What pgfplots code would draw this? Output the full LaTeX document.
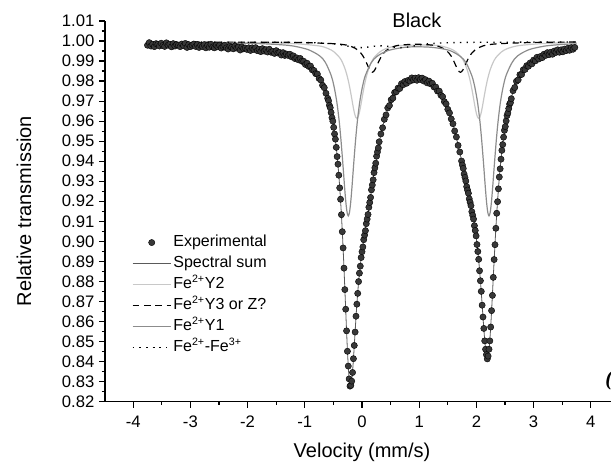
\documentclass[border=0pt]{standalone}
\usepackage{pgfplots}
\pgfplotsset{compat=1.18}
\usepackage{fontspec}
\setmainfont{Liberation Sans}
\newfontfamily\serifbi{Liberation Serif}

\definecolor{sumc}{HTML}{5A5A5A}
\definecolor{yone}{HTML}{8C8C8C}
\definecolor{ytwo}{HTML}{C8C8C8}

\pgfplotstableread{
x y
-3.75 0.9979
-3.72 0.9992
-3.69 0.9975
-3.66 0.9984
-3.63 0.9972
-3.60 0.9987
-3.57 0.9983
-3.54 0.9975
-3.51 0.9989
-3.48 0.9978
-3.45 0.9973
-3.42 0.9991
-3.39 0.9979
-3.36 0.9984
-3.33 0.9971
-3.30 0.9987
-3.27 0.9975
-3.24 0.9982
-3.21 0.9979
-3.18 0.9972
-3.15 0.9985
-3.12 0.9977
-3.09 0.9988
-3.06 0.9968
-3.03 0.9982
-3.00 0.9972
-2.97 0.9979
-2.94 0.9985
-2.91 0.9973
-2.88 0.9982
-2.85 0.9968
-2.82 0.9979
-2.79 0.9973
-2.76 0.9982
-2.73 0.9966
-2.70 0.9978
-2.67 0.9969
-2.64 0.9984
-2.61 0.9970
-2.58 0.9966
-2.55 0.9979
-2.52 0.9971
-2.49 0.9979
-2.46 0.9965
-2.43 0.9973
-2.40 0.9979
-2.37 0.9966
-2.34 0.9960
-2.31 0.9974
-2.28 0.9968
-2.25 0.9961
-2.22 0.9975
-2.19 0.9965
-2.16 0.9970
-2.13 0.9955
-2.10 0.9971
-2.07 0.9961
-2.04 0.9965
-2.01 0.9958
-1.98 0.9966
-1.95 0.9953
-1.92 0.9966
-1.89 0.9958
-1.86 0.9967
-1.83 0.9952
-1.80 0.9959
-1.77 0.9947
-1.74 0.9962
-1.71 0.9950
-1.68 0.9957
-1.65 0.9945
-1.62 0.9959
-1.59 0.9944
-1.56 0.9948
-1.53 0.9938
-1.50 0.9952
-1.47 0.9940
-1.44 0.9943
-1.41 0.9930
-1.38 0.9942
-1.35 0.9928
-1.32 0.9935
-1.29 0.9928
-1.26 0.9934
-1.23 0.9921
-1.20 0.9926
-1.17 0.9912
-1.14 0.9916
-1.11 0.9906
-1.08 0.9913
-1.05 0.9899
-1.02 0.9899
-0.99 0.9883
-0.96 0.9889
-0.93 0.9873
-0.90 0.9875
-0.87 0.9856
-0.84 0.9853
-0.81 0.9837
-0.78 0.9835
-0.75 0.9813
-0.72 0.9805
-0.69 0.9779
-0.66 0.9767
-0.63 0.9739
-0.600 0.9714
-0.585 0.9702
-0.570 0.9679
-0.555 0.9667
-0.540 0.9643
-0.525 0.9617
-0.510 0.9600
-0.495 0.9569
-0.480 0.9536
-0.465 0.9510
-0.450 0.9469
-0.435 0.9423
-0.420 0.9385
-0.405 0.9330
-0.390 0.9267
-0.375 0.9210
-0.360 0.9133
-0.345 0.9048
-0.330 0.8967
-0.315 0.8866
-0.300 0.8759
-0.285 0.8661
-0.270 0.8553
-0.255 0.8451
-0.240 0.8377
-0.225 0.8313
-0.210 0.8277
-0.195 0.8281
-0.180 0.8302
-0.165 0.8345
-0.150 0.8414
-0.135 0.8480
-0.120 0.8547
-0.105 0.8626
-0.090 0.8686
-0.075 0.8740
-0.060 0.8799
-0.045 0.8841
-0.030 0.8876
-0.015 0.8919
0.000 0.8948
0.015 0.8972
0.030 0.9008
0.045 0.9031
0.060 0.9053
0.075 0.9088
0.090 0.9111
0.105 0.9134
0.120 0.9170
0.135 0.9194
0.150 0.9219
0.165 0.9257
0.180 0.9281
0.195 0.9307
0.210 0.9343
0.225 0.9367
0.240 0.9390
0.255 0.9425
0.270 0.9446
0.285 0.9466
0.300 0.9497
0.33 0.9536
0.36 0.9567
0.39 0.9609
0.42 0.9631
0.45 0.9666
0.48 0.9678
0.51 0.9707
0.54 0.9715
0.57 0.9743
0.60 0.9747
0.63 0.9765
0.66 0.9763
0.69 0.9787
0.72 0.9782
0.75 0.9798
0.78 0.9789
0.81 0.9804
0.84 0.9800
0.87 0.9816
0.90 0.9806
0.93 0.9815
0.96 0.9804
0.99 0.9817
1.02 0.9808
1.05 0.9815
1.08 0.9800
1.11 0.9807
1.14 0.9791
1.17 0.9800
1.20 0.9786
1.23 0.9789
1.26 0.9770
1.29 0.9770
1.32 0.9750
1.35 0.9750
1.38 0.9729
1.41 0.9722
1.44 0.9697
1.47 0.9686
1.50 0.9659
1.53 0.9641
1.56 0.9611
1.59 0.9587
1.62 0.9551
1.65 0.9521
1.68 0.9479
1.71 0.9446
1.74 0.9401
1.755 0.9381
1.770 0.9364
1.785 0.9336
1.800 0.9319
1.815 0.9301
1.830 0.9273
1.845 0.9256
1.860 0.9240
1.875 0.9212
1.890 0.9195
1.905 0.9178
1.920 0.9148
1.935 0.9130
1.950 0.9111
1.965 0.9078
1.980 0.9054
1.995 0.9027
2.010 0.8984
2.025 0.8949
2.040 0.8910
2.055 0.8853
2.070 0.8803
2.085 0.8750
2.100 0.8681
2.115 0.8622
2.130 0.8565
2.145 0.8503
2.160 0.8461
2.175 0.8434
2.190 0.8413
2.205 0.8427
2.220 0.8461
2.235 0.8503
2.250 0.8572
2.265 0.8654
2.280 0.8730
2.295 0.8820
2.310 0.8909
2.325 0.8983
2.340 0.9065
2.355 0.9140
2.370 0.9198
2.385 0.9262
2.400 0.9321
2.415 0.9362
2.430 0.9410
2.445 0.9454
2.460 0.9483
2.475 0.9520
2.490 0.9554
2.505 0.9573
2.520 0.9601
2.535 0.9628
2.550 0.9641
2.565 0.9663
2.580 0.9685
2.595 0.9692
2.610 0.9712
2.64 0.9752
2.67 0.9768
2.70 0.9799
2.73 0.9806
2.76 0.9832
2.79 0.9833
2.82 0.9857
2.85 0.9858
2.88 0.9877
2.91 0.9874
2.94 0.9891
2.97 0.9886
3.00 0.9905
3.03 0.9901
3.06 0.9919
3.09 0.9910
3.12 0.9923
3.15 0.9917
3.18 0.9934
3.21 0.9928
3.24 0.9942
3.27 0.9932
3.30 0.9944
3.33 0.9934
3.36 0.9950
3.39 0.9943
3.42 0.9956
3.45 0.9944
3.48 0.9956
3.51 0.9946
3.54 0.9960
3.57 0.9952
3.60 0.9964
3.63 0.9954
3.66 0.9967
3.69 0.9959
3.72 0.9968
}\expdata

\pgfplotstableread{
x y
-3.75 0.9983
-3.5 0.9981
-3.0 0.9978
-2.5 0.9972
-2.0 0.9963
-1.74 0.9955
-1.5 0.9944
-1.38 0.9937
-1.26 0.9927
-1.20 0.9921
-1.14 0.9913
-1.08 0.9906
-1.02 0.9895
-0.96 0.9884
-0.90 0.9869
-0.84 0.9851
-0.78 0.9830
-0.72 0.9801
-0.66 0.9764
-0.63 0.9741
-0.600 0.9714
-0.585 0.9699
-0.570 0.9682
-0.555 0.9664
-0.540 0.9643
-0.525 0.9621
-0.510 0.9596
-0.495 0.9569
-0.480 0.9540
-0.465 0.9506
-0.450 0.9469
-0.435 0.9427
-0.420 0.9381
-0.405 0.9330
-0.390 0.9271
-0.375 0.9206
-0.360 0.9133
-0.345 0.9052
-0.330 0.8963
-0.315 0.8866
-0.300 0.8763
-0.285 0.8657
-0.270 0.8553
-0.255 0.8455
-0.240 0.8373
-0.225 0.8313
-0.210 0.8281
-0.195 0.8277
-0.180 0.8302
-0.165 0.8349
-0.150 0.8410
-0.135 0.8480
-0.120 0.8551
-0.105 0.8622
-0.090 0.8686
-0.075 0.8744
-0.060 0.8795
-0.045 0.8841
-0.030 0.8880
-0.015 0.8915
0.000 0.8948
0.015 0.8976
0.030 0.9004
0.045 0.9031
0.060 0.9057
0.075 0.9084
0.090 0.9111
0.105 0.9138
0.120 0.9166
0.135 0.9194
0.150 0.9223
0.165 0.9253
0.180 0.9281
0.195 0.9311
0.210 0.9339
0.225 0.9367
0.240 0.9394
0.255 0.9421
0.270 0.9446
0.285 0.9470
0.300 0.9493
0.33 0.9533
0.36 0.9571
0.39 0.9604
0.42 0.9634
0.45 0.9660
0.48 0.9683
0.51 0.9703
0.54 0.9721
0.57 0.9736
0.60 0.9749
0.63 0.9760
0.66 0.9770
0.69 0.9779
0.72 0.9786
0.75 0.9792
0.78 0.9797
0.81 0.9801
0.84 0.9805
0.87 0.9807
0.90 0.9809
0.93 0.9810
0.96 0.9811
0.99 0.9811
1.02 0.9810
1.05 0.9808
1.08 0.9806
1.11 0.9803
1.14 0.9799
1.17 0.9795
1.20 0.9789
1.23 0.9783
1.26 0.9775
1.29 0.9766
1.32 0.9756
1.35 0.9745
1.38 0.9732
1.41 0.9718
1.44 0.9701
1.47 0.9683
1.50 0.9662
1.53 0.9639
1.56 0.9613
1.59 0.9584
1.62 0.9553
1.65 0.9519
1.68 0.9482
1.71 0.9444
1.74 0.9403
1.755 0.9381
1.770 0.9360
1.785 0.9340
1.800 0.9319
1.815 0.9297
1.830 0.9277
1.845 0.9256
1.860 0.9236
1.875 0.9216
1.890 0.9195
1.905 0.9174
1.920 0.9152
1.935 0.9130
1.950 0.9107
1.965 0.9082
1.980 0.9054
1.995 0.9023
2.010 0.8988
2.025 0.8949
2.040 0.8906
2.055 0.8857
2.070 0.8803
2.085 0.8746
2.100 0.8685
2.115 0.8622
2.130 0.8561
2.145 0.8507
2.160 0.8461
2.175 0.8430
2.190 0.8417
2.205 0.8427
2.220 0.8457
2.235 0.8507
2.250 0.8572
2.265 0.8650
2.280 0.8734
2.295 0.8820
2.310 0.8905
2.325 0.8987
2.340 0.9065
2.355 0.9136
2.370 0.9202
2.385 0.9262
2.400 0.9317
2.415 0.9366
2.430 0.9410
2.445 0.9450
2.460 0.9487
2.475 0.9520
2.490 0.9550
2.505 0.9577
2.520 0.9601
2.535 0.9624
2.550 0.9645
2.565 0.9663
2.580 0.9681
2.595 0.9696
2.610 0.9712
2.64 0.9748
2.67 0.9773
2.70 0.9793
2.73 0.9810
2.76 0.9827
2.79 0.9840
2.82 0.9851
2.85 0.9861
2.88 0.9870
2.91 0.9880
2.94 0.9887
2.97 0.9894
3.00 0.9900
3.06 0.9911
3.12 0.9920
3.18 0.9928
3.24 0.9935
3.30 0.9940
3.36 0.9944
3.42 0.9948
3.48 0.9952
3.54 0.9955
3.60 0.9957
3.66 0.9961
3.72 0.9963
}\sumdata

\pgfplotstableread{
x y
-3.75 0.9993
-2.5 0.9990
-1.8 0.9987
-1.4 0.9981
-1.2 0.9975
-0.94 0.9957
-0.74 0.9926
-0.64 0.9893
-0.54 0.9829
-0.49 0.9775
-0.44 0.9695
-0.40 0.9603
-0.37 0.9513
-0.34 0.9407
-0.32 0.9330
-0.30 0.9254
-0.28 0.9188
-0.26 0.9143
-0.24 0.9127
-0.22 0.9143
-0.20 0.9188
-0.18 0.9254
-0.16 0.9330
-0.14 0.9407
-0.11 0.9513
-0.08 0.9603
-0.04 0.9695
0.01 0.9775
0.06 0.9829
0.16 0.9891
0.26 0.9923
0.46 0.9953
0.80 0.9970
1.20 0.9969
1.52 0.9954
1.72 0.9923
1.82 0.9891
1.92 0.9827
1.97 0.9773
2.02 0.9694
2.06 0.9602
2.09 0.9512
2.12 0.9406
2.14 0.9330
2.16 0.9254
2.18 0.9188
2.20 0.9143
2.22 0.9127
2.24 0.9143
2.26 0.9188
2.28 0.9254
2.30 0.9330
2.32 0.9406
2.35 0.9512
2.38 0.9602
2.42 0.9695
2.47 0.9775
2.52 0.9829
2.62 0.9891
2.72 0.9926
2.92 0.9957
3.20 0.9975
3.50 0.9983
3.75 0.9986
}\yonedata

\pgfplotstableread{
x y
-3.75 0.9994
-1.5 0.9990
-0.79 0.9977
-0.59 0.9962
-0.49 0.9946
-0.39 0.9917
-0.34 0.9892
-0.29 0.9856
-0.25 0.9815
-0.22 0.9776
-0.19 0.9730
-0.17 0.9697
-0.15 0.9665
-0.13 0.9638
-0.11 0.9620
-0.09 0.9613
-0.07 0.9620
-0.05 0.9638
-0.03 0.9665
-0.01 0.9697
0.01 0.9730
0.04 0.9776
0.07 0.9815
0.11 0.9856
0.16 0.9892
0.21 0.9917
0.31 0.9945
0.41 0.9961
0.61 0.9976
1.00 0.9980
1.34 0.9977
1.54 0.9962
1.64 0.9946
1.74 0.9917
1.79 0.9892
1.84 0.9856
1.88 0.9815
1.91 0.9776
1.94 0.9730
1.96 0.9697
1.98 0.9665
2.00 0.9638
2.02 0.9620
2.04 0.9613
2.06 0.9620
2.08 0.9638
2.10 0.9665
2.12 0.9697
2.14 0.9730
2.17 0.9776
2.20 0.9815
2.24 0.9856
2.29 0.9892
2.34 0.9917
2.44 0.9946
2.54 0.9962
2.74 0.9977
3.20 0.9988
3.75 0.9992
}\ytwodata

\pgfplotstableread{
x y
-3.75 0.9995
-1.5 0.9994
-1.0 0.9992
-0.52 0.9987
-0.32 0.9982
-0.22 0.9976
-0.12 0.9964
-0.07 0.9954
-0.02 0.9940
0.02 0.9924
0.05 0.9908
0.08 0.9890
0.10 0.9877
0.12 0.9865
0.14 0.9854
0.16 0.9847
0.18 0.9844
0.20 0.9847
0.22 0.9854
0.24 0.9865
0.26 0.9877
0.28 0.9890
0.31 0.9908
0.34 0.9924
0.38 0.9940
0.43 0.9954
0.48 0.9963
0.58 0.9975
0.68 0.9980
0.95 0.9984
1.22 0.9980
1.32 0.9975
1.42 0.9963
1.47 0.9954
1.52 0.9940
1.56 0.9924
1.59 0.9908
1.62 0.9890
1.64 0.9877
1.66 0.9865
1.68 0.9854
1.70 0.9847
1.72 0.9844
1.74 0.9847
1.76 0.9854
1.78 0.9865
1.80 0.9877
1.82 0.9890
1.85 0.9908
1.88 0.9924
1.92 0.9940
1.97 0.9954
2.02 0.9964
2.12 0.9976
2.22 0.9982
2.42 0.9987
3.00 0.9993
3.75 0.9995
}\ythreedata

\pgfplotstableread{
x y
-3.75 0.9995
-2.0 0.9994
-1.2 0.9993
-0.8 0.9991
-0.55 0.9987
-0.4 0.9983
-0.25 0.9975
-0.15 0.9970
-0.05 0.9967
0.05 0.9968
0.15 0.9972
0.25 0.9975
0.325 0.9976
0.4 0.9975
0.5 0.9972
0.6 0.9968
0.7 0.9967
0.8 0.9970
0.9 0.9975
1.05 0.9983
1.3 0.9989
1.6 0.9992
2.2 0.9994
3.75 0.9995
}\fefedata

\begin{document}
\begin{tikzpicture}
\begin{axis}[
  scale only axis,
  width=379.5pt, height=285.4pt,
  xmin=-4.493, xmax=4.353, ymin=0.82, ymax=1.01,
  axis x line=bottom, axis y line=left,
  axis line style={-, line width=0.9pt},
  tick align=outside,
  major tick length=4.5pt, minor tick length=2.5pt,
  tick style={line width=0.9pt, black},
  xtick={-4,-3,-2,-1,0,1,2,3,4},
  minor x tick num=1,
  ytick={0.82,0.83,0.84,0.85,0.86,0.87,0.88,0.89,0.90,0.91,0.92,0.93,0.94,0.95,0.96,0.97,0.98,0.99,1.00,1.01},
  minor y tick num=1,
  /pgf/number format/assume math mode=true,
  yticklabel style={/pgf/number format/.cd, fixed, fixed zerofill, precision=2},
  xticklabel style={yshift=-2.5pt},
  ticklabel style={font=\fontsize{12.5}{14}\selectfont},
  xlabel={Velocity (mm/s)},
  ylabel={Relative transmission},
  label style={font=\fontsize{15}{18}\selectfont},
  x label style={at={(axis description cs:0.508,-0.133)}, anchor=center},
  y label style={at={(axis description cs:-0.16,0.5)}, anchor=center},
  clip=false,
  legend cell align=left,
  legend image code/.code={\draw[mark repeat=2,mark phase=2,#1] plot coordinates {(0cm,0cm) (0.5cm,0cm) (1cm,0cm)};},
  legend style={at={(axis description cs:0.053,0.443)}, anchor=north west,
    draw=none, fill=none, font=\fontsize{12}{14}\selectfont,
    inner sep=0pt, row sep=1.75pt,
    nodes={inner sep=1.5pt, text height=8.5pt, text depth=2.5pt}},
]
\addplot[only marks, mark=*, mark size=2.35pt, mark options={fill=black!78, draw=black, line width=0.3pt}] table {\expdata};
\addlegendentry{Experimental}
\addplot[sumc, line width=0.6pt] table {\sumdata};
\addlegendentry{Spectral sum}
\addplot[ytwo, line width=0.9pt, smooth] table {\ytwodata};
\addlegendentry{Fe\textsuperscript{2+}Y2}
\addplot[black, line width=0.9pt, dash pattern=on 5pt off 3.5pt, smooth] table {\ythreedata};
\addlegendentry{Fe\textsuperscript{2+}Y3 or Z?}
\addplot[yone, line width=0.9pt, smooth] table {\yonedata};
\addlegendentry{Fe\textsuperscript{2+}Y1}
\addplot[black, line width=1pt, dash pattern=on 1pt off 4pt, smooth] table {\fefedata};
\addlegendentry{Fe\textsuperscript{2+}-Fe\textsuperscript{3+}}
\node[font=\fontsize{15}{18}\selectfont] at (axis cs:0.96,1.0105) {Black};
\node[font=\fontsize{16}{18}\selectfont\serifbi\bfseries\itshape, anchor=west, inner sep=0pt] at (axis cs:4.25,0.8305) {(c)};
\coordinate (SW) at (rel axis cs:0,0);
\coordinate (NE) at (rel axis cs:1,1);
\end{axis}
\pgfresetboundingbox
\path[use as bounding box] ([shift={(-78.75pt,-49.9pt)}]SW) rectangle ([shift={(0pt,15.75pt)}]NE);
\end{tikzpicture}
\end{document}
